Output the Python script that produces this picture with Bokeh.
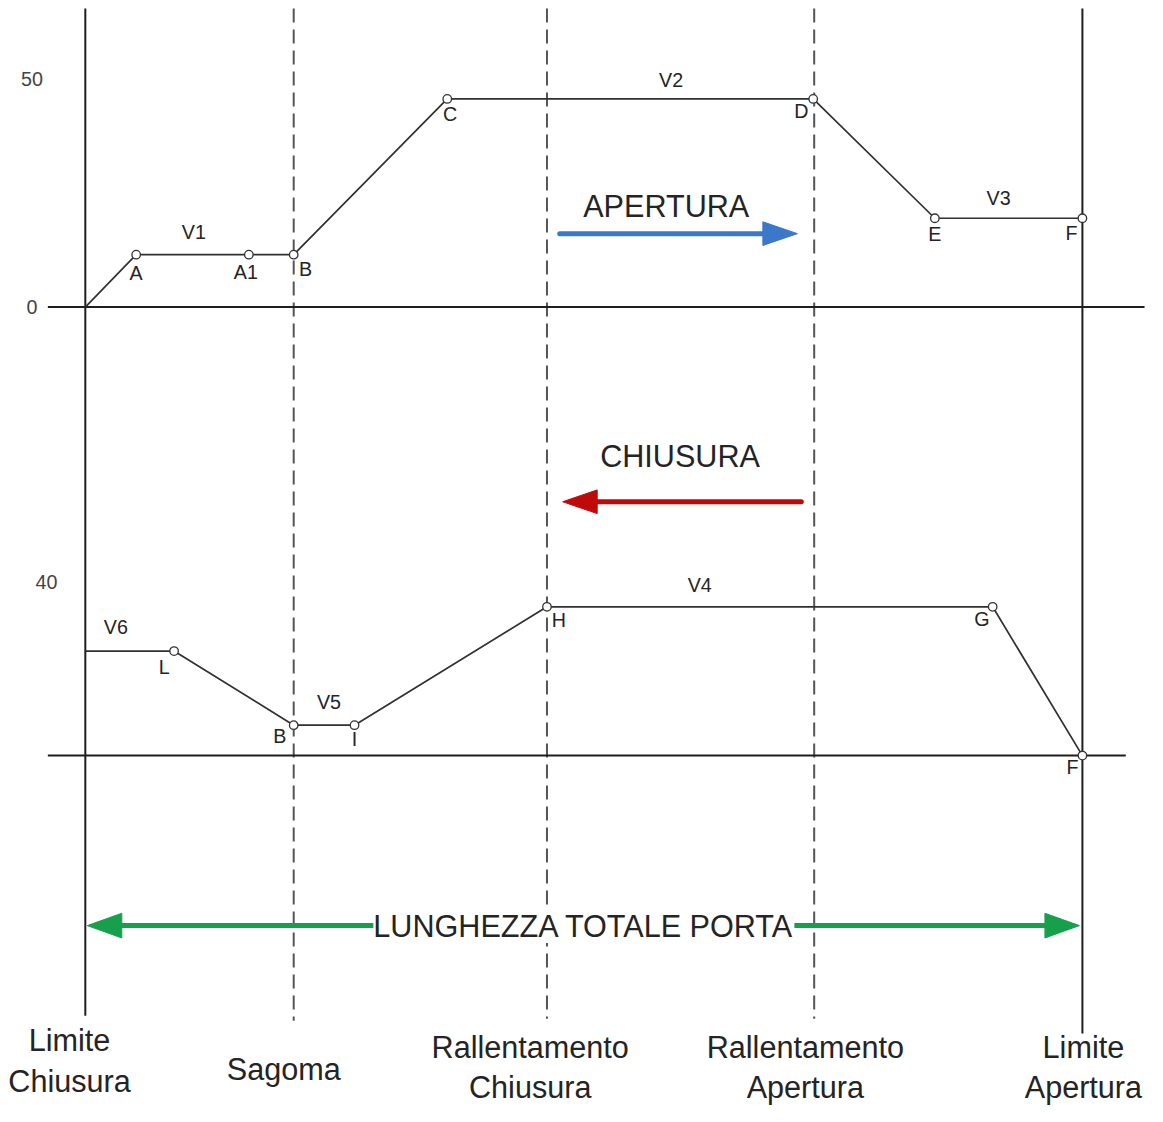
from bokeh.plotting import figure
from bokeh.models import Range1d, Label
from bokeh.core.properties import value
from bokeh.embed import file_html
from bokeh.resources import INLINE

# ---------------- data ----------------
# door position in % of total door length (0 = Limite Chiusura, 100 = Limite Apertura)
guide_labels = ["Limite\nChiusura", "Sagoma", "Rallentamento\nChiusura",
                "Rallentamento\nApertura", "Limite\nApertura"]
guide_pos = [0.0, 20.9, 46.3, 73.1, 100.0]

# opening (APERTURA) speed levels
open_level_names = ["V1", "V2", "V3"]
open_levels = [11.5, 45.7, 19.5]
open_point_names = ["A", "A1", "B", "C", "D", "E", "F"]
open_pos = [0.0, 5.1, 16.4, 20.9, 36.3, 73.0, 85.2, 100.0]
open_speed = [0.0, 11.5, 11.5, 11.5, 45.7, 45.7, 19.5, 19.5]
open_ticks = [50, 0]

# closing (CHIUSURA) speed levels
close_level_names = ["V6", "V5", "V4"]
close_levels = [24.1, 7.0, 34.3]
close_point_names = ["L", "B", "I", "H", "G", "F"]
close_pos = [0.0, 8.9, 20.9, 27.0, 46.3, 91.0, 100.0]
close_speed = [24.1, 24.1, 7.0, 7.0, 34.3, 34.3, 0.0]
close_ticks = [40]

# ---------------- layout / style ----------------
REF_W, REF_H = 1163, 1122
W, H = 1147, 1106
S = W / REF_W
X0, XU = 86.0, 10.11            # pixel of position 0, pixels per % of door
OPEN_BASE, OPEN_PX = 311.0, 4.62
CLOSE_BASE, CLOSE_PX = 766.0, 4.40

FONT = value("Liberation Sans")
BIG = f"{31 * S:.1f}px"
SMALL = f"{20 * S:.1f}px"
INK = "#242424"

def px2pos(px):
    return (px - X0) / XU

p = figure(width=W, height=H,
           x_range=Range1d(px2pos(0), px2pos(REF_W)),
           y_range=Range1d(REF_H, 0),
           output_backend="svg", toolbar_location=None,
           x_axis_location=None, y_axis_location=None,
           min_border=0, outline_line_color=None,
           background_fill_color="white", border_fill_color="white")
p.grid.visible = False
p.extra_y_ranges = {
    "open": Range1d((OPEN_BASE - REF_H) / OPEN_PX, OPEN_BASE / OPEN_PX),
    "close": Range1d((CLOSE_BASE - REF_H) / CLOSE_PX, CLOSE_BASE / CLOSE_PX),
}

# vertical guides
solid = [0, 4]
dashed = [1, 2, 3]
p.segment(x0=[guide_pos[i] for i in solid], x1=[guide_pos[i] for i in solid],
          y0=[8, 8], y1=[1030, 1048], line_color="#1e1e1e", line_width=2)
p.segment(x0=[guide_pos[i] for i in dashed], x1=[guide_pos[i] for i in dashed],
          y0=[8] * 3, y1=[1035, 1033, 1033], line_color="#555555",
          line_width=2, line_dash="14 7")

# zero lines (speed axes)
p.line([px2pos(48), px2pos(1160)], [0, 0], y_range_name="open",
       line_color="#1e1e1e", line_width=2)
p.line([px2pos(48), px2pos(1141)], [0, 0], y_range_name="close",
       line_color="#1e1e1e", line_width=2)

# tick labels
p.text(x=[px2pos(32)] * len(open_ticks), y=open_ticks, text=[str(t) for t in open_ticks],
       y_range_name="open", text_font=FONT, text_font_size=SMALL, text_color="#444444",
       text_align="center", text_baseline="middle")
p.text(x=[px2pos(46.7)] * len(close_ticks), y=close_ticks, text=[str(t) for t in close_ticks],
       y_range_name="close", text_font=FONT, text_font_size=SMALL, text_color="#444444",
       text_align="center", text_baseline="middle")

# speed profiles
p.line(open_pos, open_speed, y_range_name="open", line_color="#303030", line_width=1.7)
p.line(close_pos, close_speed, y_range_name="close", line_color="#303030", line_width=1.7)

p.scatter(open_pos[1:], open_speed[1:], y_range_name="open", size=8.5,
          fill_color="white", line_color="#333333", line_width=1.3)
p.scatter(close_pos[1:], close_speed[1:], y_range_name="close", size=8.5,
          fill_color="white", line_color="#333333", line_width=1.3)

# point labels (pixel offsets from each point)
open_lbl_off = [(0, 19), (-3, 18), (12, 15), (3, 15), (-12, 12), (0, 16), (-11, 15)]
close_lbl_off = [(-10, 16), (-14, 11), (0, 14), (12, 13), (-11, 12), (-10, 12)]
p.text(x=open_pos[1:], y=open_speed[1:], text=open_point_names, y_range_name="open",
       x_offset=[o[0] * S for o in open_lbl_off], y_offset=[o[1] * S for o in open_lbl_off],
       text_font=FONT, text_font_size=SMALL, text_color=INK,
       text_align="center", text_baseline="middle")
p.text(x=close_pos[1:], y=close_speed[1:], text=close_point_names, y_range_name="close",
       x_offset=[o[0] * S for o in close_lbl_off], y_offset=[o[1] * S for o in close_lbl_off],
       text_font=FONT, text_font_size=SMALL, text_color=INK,
       text_align="center", text_baseline="middle")

# level labels
open_lvl_x = [px2pos(196), px2pos(680), px2pos(1012)]
open_lvl_dy = [-23, -19, -21]
close_lvl_x = [px2pos(117), px2pos(333), px2pos(709)]
close_lvl_dy = [-24, -24, -22]
p.text(x=open_lvl_x, y=open_levels, text=open_level_names, y_range_name="open",
       y_offset=[d * S for d in open_lvl_dy], text_font=FONT, text_font_size=SMALL,
       text_color=INK, text_align="center", text_baseline="middle")
p.text(x=close_lvl_x, y=close_levels, text=close_level_names, y_range_name="close",
       y_offset=[d * S for d in close_lvl_dy], text_font=FONT, text_font_size=SMALL,
       text_color=INK, text_align="center", text_baseline="middle")

# arrows
def arrow(x_tail, x_tip, y, color, width=5, head_len=35, head_half=12):
    d = 1 if x_tip > x_tail else -1
    base = x_tip - d * head_len / XU
    p.segment(x0=[x_tail], x1=[base], y0=[y], y1=[y], line_color=color,
              line_width=width, line_cap="round")
    p.patch([base, x_tip, base], [y - head_half, y, y + head_half],
            fill_color=color, line_color=color, line_width=1)

arrow(px2pos(567), px2pos(808), 236.5, "#3b78c9")
arrow(px2pos(812), px2pos(570), 508.5, "#bf0a0a")

# total length double arrow
GREEN = "#16a04c"
mid = (guide_pos[0] + guide_pos[-1]) / 2
l_tip, r_tip = px2pos(88), px2pos(1094)
p.segment(x0=[l_tip + 34 / XU], x1=[r_tip - 34 / XU], y0=[938.5], y1=[938.5],
          line_color=GREEN, line_width=5)
p.patch([l_tip + 35 / XU, l_tip, l_tip + 35 / XU], [926, 938.5, 951],
        fill_color=GREEN, line_color=GREEN)
p.patch([r_tip - 35 / XU, r_tip, r_tip - 35 / XU], [926, 938.5, 951],
        fill_color=GREEN, line_color=GREEN)
p.add_layout(Label(x=mid, y=939, text="LUNGHEZZA TOTALE PORTA",
                   text_font="Liberation Sans", text_font_size=BIG, text_color=INK,
                   text_align="center", text_baseline="middle",
                   background_fill_color="white"))

# direction labels
p.text(x=[px2pos(675), px2pos(689)], y=[208, 462], text=["APERTURA", "CHIUSURA"],
       text_font=FONT, text_font_size=BIG, text_color=INK,
       text_align="center", text_baseline="middle")

# guide labels
guide_dx = [-16, -10, -17, -9, 1]
guide_y = [1075, 1084, 1082, 1082, 1082]
p.text(x=guide_pos, y=guide_y, text=guide_labels, x_offset=[d * S for d in guide_dx],
       text_font=FONT, text_font_size=BIG, text_color=INK, text_line_height=1.2,
       text_align="center", text_baseline="middle")

open("out.html", "w").write(file_html(p, INLINE))
